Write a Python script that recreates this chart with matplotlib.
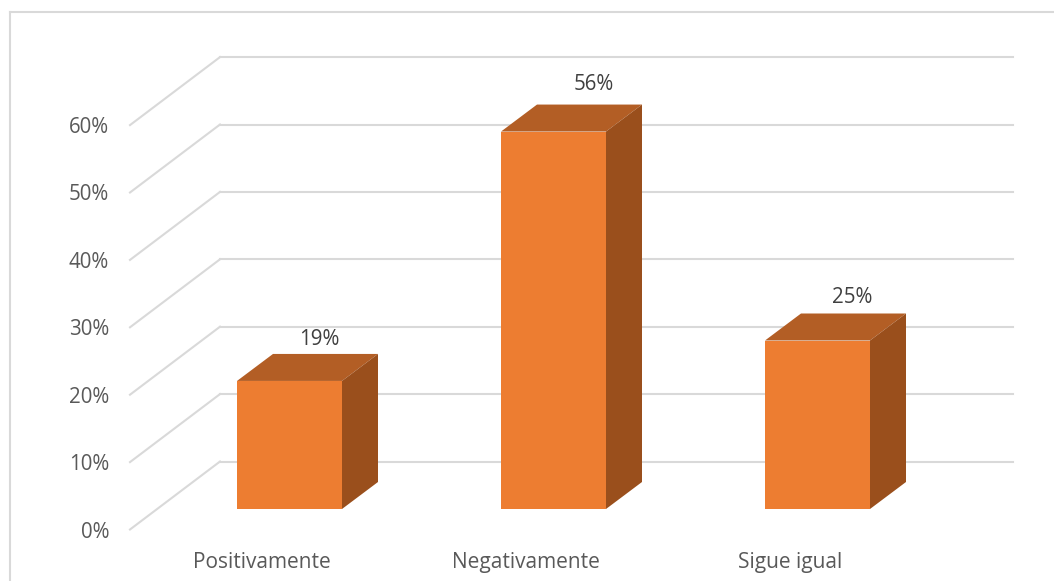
import matplotlib
matplotlib.use("Agg")
import matplotlib.pyplot as plt
from matplotlib.patches import Polygon, Rectangle

categories = ["Positivamente", "Negativamente", "Sigue igual"]
values = [19, 56, 25]
value_labels = ["19%", "56%", "25%"]
ticks = [0, 10, 20, 30, 40, 50, 60]
tick_labels = ["0%", "10%", "20%", "30%", "40%", "50%", "60%"]

W, H = 1054, 581
plt.rcParams["font.family"] = ["Open Sans", "DejaVu Sans"]

fig = plt.figure(figsize=(W / 100, H / 100), dpi=100)
ax = fig.add_axes([0, 0, 1, 1])
ax.axis("off")

# one category = 264 px, one percent = 6.74 px
x_unit = 264.0
y_unit = 6.74
x0_px = 289.5
y0_px = 529.5
ax.set_xlim(-x0_px / x_unit, (W - x0_px) / x_unit)
ax.set_ylim(-(H - y0_px) / y_unit, y0_px / y_unit)

grid_col = "#d9d9d9"
left = (130 - x0_px) / x_unit
back = (220 - x0_px) / x_unit
right = (1013 - x0_px) / x_unit
wall_dy = 68.0 / y_unit

for t, lab in zip(ticks, tick_labels):
    ax.plot([left, back], [t, t + wall_dy], color=grid_col, lw=1.5, zorder=1)
    ax.plot([back, right], [t + wall_dy, t + wall_dy], color=grid_col, lw=1.5, zorder=1)
    ax.text(left - 21 / x_unit, t - 2.5 / y_unit, lab, ha="right", va="center", fontsize=14.8, color="#595959")

# bar geometry
half = 52.5 / x_unit
base = 20.5 / y_unit
dx = 36.0 / x_unit
dy = 27.0 / y_unit
label_dx = [29.5, 40.5, 34.5]
label_dy = [14, 20.5, 15.5]
for i, v in enumerate(values):
    top = base + v
    ax.add_patch(Rectangle((i - half, base), 2 * half, v, fc="#ed7d31", ec="none", zorder=3))
    ax.add_patch(Polygon([(i - half, top), (i + half, top), (i + half + dx, top + dy), (i - half + dx, top + dy)],
                         fc="#b35e25", ec="none", zorder=3))
    ax.add_patch(Polygon([(i + half, base), (i + half + dx, base + dy), (i + half + dx, top + dy), (i + half, top)],
                         fc="#9a4f1c", ec="none", zorder=3))
    ax.text(i + label_dx[i] / x_unit, top + dy + label_dy[i] / y_unit, value_labels[i], ha="center", va="center",
            fontsize=14.8, color="#404040", zorder=4)
    ax.text(i - 27.5 / x_unit, -(562.5 - y0_px) / y_unit, categories[i], ha="center", va="center",
            fontsize=15, color="#595959")

# chart border: only the top and left edges show in the crop
bl = (10 - x0_px) / x_unit
br = (W - x0_px) / x_unit
btop = (y0_px - 12) / y_unit
bbot = -(H - y0_px) / y_unit
ax.plot([bl, br], [btop, btop], color=grid_col, lw=1.5, zorder=0)
ax.plot([bl, bl], [bbot, btop], color=grid_col, lw=1.5, zorder=0)

fig.savefig("out.png", dpi=100, facecolor="white")
